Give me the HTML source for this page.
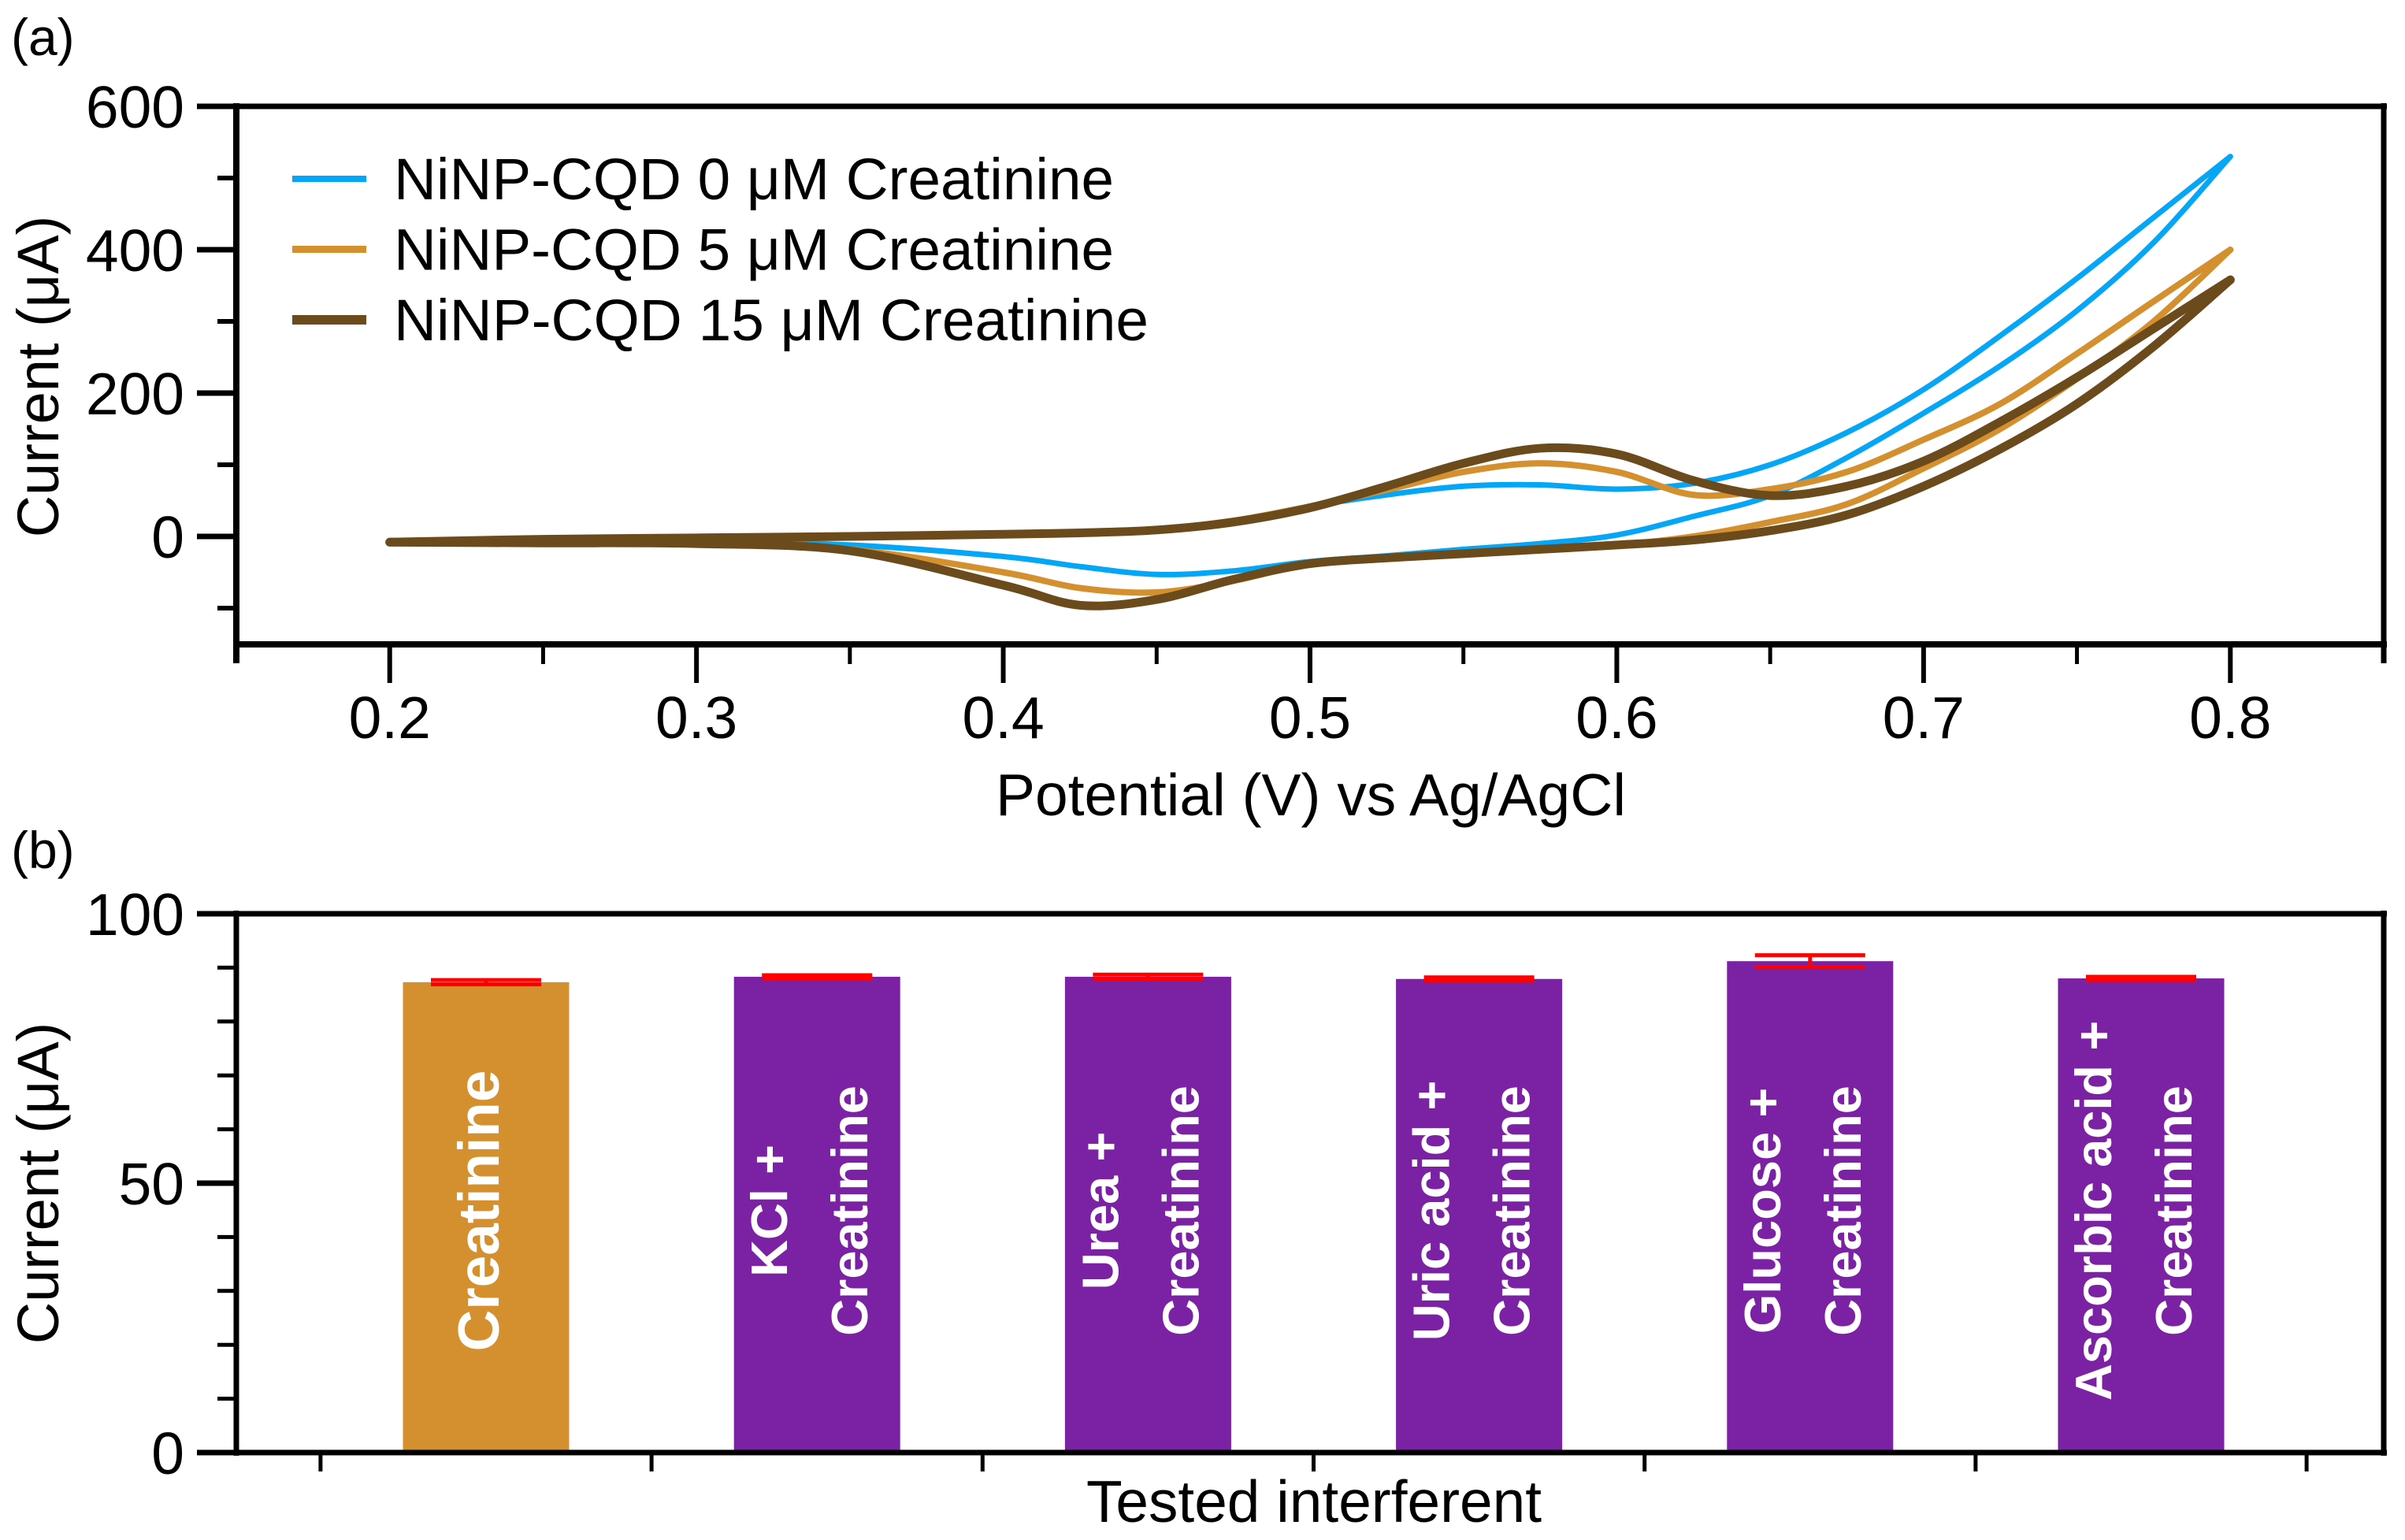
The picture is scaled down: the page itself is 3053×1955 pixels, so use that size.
<!DOCTYPE html>
<html><head><meta charset="utf-8"><style>
html,body{margin:0;padding:0;background:#fff}
svg{display:block}
text{font-family:"Liberation Sans",Arial,sans-serif}
</style></head><body>
<svg id="fig" width="3053" height="1955" viewBox="0 0 3053 1955" xmlns="http://www.w3.org/2000/svg">
<g id="cv"></g>
<g id="bars"></g>
</svg>
<script>
// ---------- Panel (a) data ----------
const potential = [0.2,0.25,0.3,0.35,0.4,0.425,0.45,0.475,0.5,0.525,0.55,0.575,0.6,0.625,0.65,0.675,0.7,0.725,0.75,0.775,0.8];
const blueFwd  = [-8,-4,-2,0,3,5,10,22,42,58,70,72,66,74,100,145,205,280,360,445,530];
const blueRev  = [-8,-8,-8,-12,-28,-42,-53,-48,-35,-27,-18,-10,2,28,57,110,172,238,315,410,530];
const orangeFwd= [-8,-4,-2,0,3,5,10,22,42,65,90,102,90,58,66,90,135,185,255,328,400];
const orangeRev= [-8,-8,-9,-18,-50,-72,-78,-62,-38,-30,-24,-18,-12,0,20,45,95,150,220,300,400];
const brownFwd = [-8,-4,-2,0,3,5,9,20,40,70,102,123,115,78,57,70,105,160,222,290,358];
const brownRev = [-8,-9,-10,-20,-68,-96,-88,-60,-38,-30,-24,-18,-12,-5,8,30,70,122,185,265,358];
const seriesNames = ["NiNP-CQD 0 \u03bcM Creatinine","NiNP-CQD 5 \u03bcM Creatinine","NiNP-CQD 15 \u03bcM Creatinine"];
const xTicks = [0.2,0.3,0.4,0.5,0.6,0.7,0.8];
const xTickLabels = ["0.2","0.3","0.4","0.5","0.6","0.7","0.8"];
const yTicks = [0,200,400,600];
const yTickLabels = ["0","200","400","600"];

// ---------- Panel (b) data ----------
const categories = [["Creatinine"],["KCl +","Creatinine"],["Urea +","Creatinine"],["Uric acid +","Creatinine"],["Glucose +","Creatinine"],["Ascorbic acid +","Creatinine"]];
const barValues = [87.3,88.3,88.3,87.9,91.2,88.0];
const barErrors = [0.4,0.3,0.4,0.3,1.1,0.3];
const bTicks = [0,50,100];
const bTickLabels = ["0","50","100"];

const NS="http://www.w3.org/2000/svg";
function mk(parent,tag,attrs){const e=document.createElementNS(NS,tag);for(const k in attrs)e.setAttribute(k,attrs[k]);parent.appendChild(e);return e;}

// ----- panel a -----
const cv=document.getElementById('cv');
const X=v=>300+(v-0.15)*(3026-300)/0.7;
const Y=v=>681-v*(681-135)/600;
function smoothPath(xs,ys){
  const p=xs.map((x,i)=>[X(x),Y(ys[i])]);
  let d="M"+p[0][0]+","+p[0][1];
  for(let i=0;i<p.length-1;i++){
    const p0=p[i-1]||p[i],p1=p[i],p2=p[i+1],p3=p[i+2]||p[i+1];
    const c1=[p1[0]+(p2[0]-p0[0])/6,p1[1]+(p2[1]-p0[1])/6];
    const c2=[p2[0]-(p3[0]-p1[0])/6,p2[1]-(p3[1]-p1[1])/6];
    d+=" C"+c1[0]+","+c1[1]+" "+c2[0]+","+c2[1]+" "+p2[0]+","+p2[1];
  }
  return d;
}
let e;
e=mk(cv,'line',{x1:250,y1:135,x2:3030,y2:135,stroke:'#000','stroke-width':7});


e=mk(cv,'line',{x1:3026,y1:131,x2:3026,y2:842,stroke:'#000','stroke-width':7});


e=mk(cv,'line',{x1:300,y1:131,x2:300,y2:842,stroke:'#000','stroke-width':8});


e=mk(cv,'line',{x1:296,y1:818,x2:3030,y2:818,stroke:'#000','stroke-width':8});


yTicks.forEach((t,i)=>{
  const l=mk(cv,'line',{x1:250,y1:Y(t),x2:300,y2:Y(t),stroke:'#000','stroke-width':7});
  
  
  const tx=mk(cv,'text',{x:234,y:Y(t)+27,'text-anchor':'end','font-size':75});
  tx.textContent=yTickLabels[i];
  
  
  if(t<600){const m=mk(cv,'line',{x1:276,y1:Y(t+100),x2:300,y2:Y(t+100),stroke:'#000','stroke-width':6});
  
  }
});
e=mk(cv,'line',{x1:276,y1:Y(-100),x2:300,y2:Y(-100),stroke:'#000','stroke-width':6});


xTicks.forEach((t,i)=>{
  const l=mk(cv,'line',{x1:X(t),y1:818,x2:X(t),y2:867,stroke:'#000','stroke-width':6});
  
  
  const tx=mk(cv,'text',{x:X(t),y:937,'text-anchor':'middle','font-size':75});
  tx.textContent=xTickLabels[i];
  
  
  if(i<xTicks.length-1){const m=mk(cv,'line',{x1:X(t+0.05),y1:818,x2:X(t+0.05),y2:843,stroke:'#000','stroke-width':5});
  
  }
});
const series=[[blueFwd,blueRev,'#06a6f6',7],[orangeFwd,orangeRev,'#d4902f',8],[brownFwd,brownRev,'#6b4a1c',11]];
const legendWidths=[914,914,958];
series.forEach((s,i)=>{
  const g=mk(cv,'g',{});
  
  
  [s[0],s[1]].forEach(arr=>{
    const p=mk(g,'path',{d:smoothPath(potential,arr),fill:'none',stroke:s[2],'stroke-width':s[3],'stroke-linejoin':'round','stroke-linecap':'round'});
    
    
  });
  const ly=227+i*89.5;
  const ll=mk(cv,'line',{x1:371,y1:ly,x2:465,y2:ly,stroke:s[2],'stroke-width':s[3]+1});
  
  
  const lt=mk(cv,'text',{x:500,y:ly+26,'font-size':74,textLength:legendWidths[i],lengthAdjust:'spacingAndGlyphs'});
  lt.textContent=seriesNames[i];
  
  
});
e=mk(cv,'text',{x:1664,y:1035,'text-anchor':'middle','font-size':75,textLength:800,lengthAdjust:'spacingAndGlyphs'});
e.textContent="Potential (V) vs Ag/AgCl";


e=mk(cv,'text',{x:0,y:0,'text-anchor':'middle','font-size':74,transform:'translate(74,478) rotate(-90)'});
e.textContent="Current (\u03bcA)";


e=mk(cv,'text',{x:14,y:70,'font-size':66});
e.textContent="(a)";



// ----- panel b -----
const bg=document.getElementById('bars');
const BY=v=>1844-v*(1844-1160)/100;
const BX=i=>617+i*420.2;
e=mk(bg,'line',{x1:250,y1:1160,x2:3030,y2:1160,stroke:'#000','stroke-width':7});


e=mk(bg,'line',{x1:3026,y1:1156,x2:3026,y2:1848,stroke:'#000','stroke-width':7});


e=mk(bg,'line',{x1:300,y1:1156,x2:300,y2:1848,stroke:'#000','stroke-width':7});


bTicks.forEach((t,i)=>{
  const l=mk(bg,'line',{x1:250,y1:BY(t),x2:300,y2:BY(t),stroke:'#000','stroke-width':7});
  
  
  const tx=mk(bg,'text',{x:234,y:BY(t)+27,'text-anchor':'end','font-size':75});
  tx.textContent=bTickLabels[i];
  
  
});
for(let v=10;v<100;v+=10){ if(v===50) continue;
  const m=mk(bg,'line',{x1:276,y1:BY(v),x2:300,y2:BY(v),stroke:'#000','stroke-width':5});
  
  
}
barValues.forEach((v,i)=>{
  const cx=BX(i);
  const r=mk(bg,'rect',{x:cx-105.5,y:BY(v),width:211,height:BY(0)-BY(v),fill:i===0?'#d4902f':'#7b21a3'});
  
  
  const er=barErrors[i];
  const g=mk(bg,'g',{stroke:'#ff0000','stroke-width':5});
  
  
  mk(g,'line',{x1:cx,y1:BY(v+er),x2:cx,y2:BY(v-er)});
  mk(g,'line',{x1:cx-70,y1:BY(v+er),x2:cx+70,y2:BY(v+er)});
  mk(g,'line',{x1:cx-70,y1:BY(v-er),x2:cx+70,y2:BY(v-er)});
  const lines=categories[i];
  const offs=lines.length===1?[-8]:[-62,40];
  const fs=lines.length===1?73:65;
  lines.forEach((s,j)=>{
    const tx=mk(bg,'text',{x:0,y:0,'text-anchor':'middle','font-size':fs,'font-weight':'bold',fill:'#fff',transform:'translate('+(cx+offs[j]+24)+',1537) rotate(-90)'});
    tx.textContent=s;
    
    
  });
});
e=mk(bg,'line',{x1:250,y1:1844,x2:3030,y2:1844,stroke:'#000','stroke-width':7});


for(let i=0;i<=categories.length;i++){
  const x=BX(i)-210.1;
  const l=mk(bg,'line',{x1:x,y1:1844,x2:x,y2:1868,stroke:'#000','stroke-width':5});
  
  
}
e=mk(bg,'text',{x:1668,y:1932,'text-anchor':'middle','font-size':75,textLength:578,lengthAdjust:'spacingAndGlyphs'});
e.textContent="Tested interferent";


e=mk(bg,'text',{x:0,y:0,'text-anchor':'middle','font-size':74,transform:'translate(74,1502) rotate(-90)'});
e.textContent="Current (\u03bcA)";


e=mk(bg,'text',{x:14,y:1102,'font-size':66});
e.textContent="(b)";


</script>
</body></html>
